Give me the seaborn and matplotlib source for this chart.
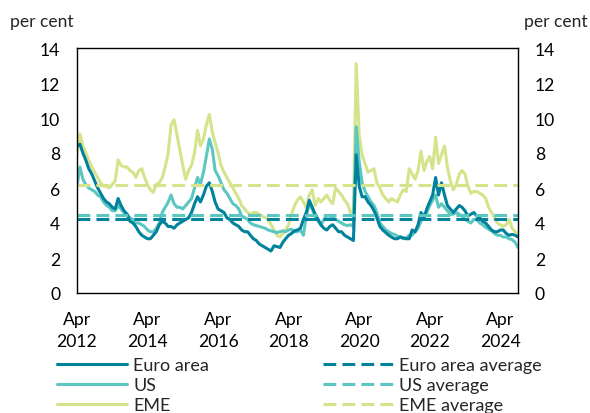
import matplotlib
matplotlib.use("Agg")
import matplotlib.pyplot as plt
import seaborn as sns
import pandas as pd

# ---- data (monthly readings, Apr 2012 - Oct 2024) ----
euro_area = [8.4, 8.5, 8.0, 7.6, 7.1, 6.8, 6.4, 6.0, 5.7, 5.4,
             5.2, 5.1, 4.9, 4.8, 5.4, 5.0, 4.7, 4.5, 4.1, 4.0,
             3.8, 3.5, 3.3, 3.2, 3.1, 3.1, 3.3, 3.5, 3.9, 4.1,
             4.0, 3.8, 3.8, 3.7, 3.9, 4.0, 4.1, 4.2, 4.3,
             4.6, 5.1, 5.5, 5.2, 5.6, 6.1, 6.3, 5.8, 5.2, 4.8,
             4.7, 4.6, 4.3, 4.2, 4.0, 3.9, 3.8, 3.6, 3.5, 3.5,
             3.3, 3.1, 3.0, 2.8, 2.7, 2.6, 2.5, 2.4, 2.7, 2.65,
             2.6, 2.9, 3.1, 3.3, 3.4, 3.55, 3.6,
             3.7, 4.2, 4.6, 5.3, 4.9, 4.5, 4.2, 3.9, 3.7, 3.6,
             3.8, 3.9, 3.7, 3.5, 3.5, 3.3, 3.2, 3.1, 3.0, 7.9,
             6.1, 5.5, 5.5, 5.2, 5.0, 4.7, 4.3, 3.8, 3.6, 3.45,
             3.3, 3.2, 3.1, 3.1, 3.2, 3.15, 3.1, 3.1,
             3.6, 3.5, 3.9, 4.6, 4.3, 4.8, 5.2, 5.6, 6.6, 5.6,
             6.3, 5.6, 5.0, 4.8, 4.6, 4.8, 5.0, 4.9, 4.7, 4.4,
             4.5, 4.6, 4.4, 4.3, 4.1, 4.0, 3.8, 3.6, 3.5, 3.5,
             3.6, 3.6, 3.4, 3.3, 3.35, 3.3, 3.2]

us = [6.1, 7.2, 6.5, 6.2, 6.0, 5.9, 5.8, 5.6, 5.5, 5.2,
      5.0, 4.9, 4.7, 4.7, 5.0, 4.8, 4.6, 4.5, 4.3, 4.2,
      4.0, 4.0, 3.9, 3.8, 3.6, 3.5, 3.5, 3.7, 4.0, 4.6,
      4.9, 5.2, 5.6, 5.1, 4.9, 4.9, 4.8, 5.0, 5.2,
      5.4, 6.0, 6.6, 6.2, 6.9, 7.8, 8.8, 8.2, 7.0, 6.7,
      6.3, 5.9, 5.7, 5.4, 5.1, 5.0, 4.8, 4.4, 4.3, 4.2,
      4.0, 3.9, 3.85, 3.8, 3.75, 3.7, 3.6, 3.55, 3.5, 3.45,
      3.5, 3.55, 3.5, 3.6, 3.65, 3.5, 3.5,
      3.6, 3.3, 4.4, 5.1, 4.8, 4.4, 4.1, 3.9, 4.2, 4.4,
      4.4, 4.3, 4.2, 4.1, 4.0, 3.9, 3.85, 3.9, 3.8, 9.5,
      7.5, 6.3, 5.8, 5.5, 5.2, 5.0, 4.6, 4.0, 3.8, 3.6,
      3.5, 3.4, 3.35, 3.25, 3.2, 3.1, 3.15, 3.3,
      3.3, 3.5, 3.7, 4.1, 4.5, 4.6, 5.0, 5.3, 5.6, 4.9,
      5.1, 4.9, 4.7, 4.5, 4.5, 4.6, 4.5, 4.4, 4.2, 4.1,
      4.0, 4.2, 4.2, 4.0, 3.9, 3.75, 3.65, 3.55, 3.4, 3.3,
      3.3, 3.2, 3.2, 3.1, 3.05, 2.9, 2.6]

eme = [7.9, 9.1, 8.4, 8.0, 7.6, 7.2, 6.9, 6.6, 6.3, 6.1,
       6.1, 6.0, 6.2, 6.4, 7.6, 7.3, 7.2, 7.2, 7.0, 6.9,
       6.6, 7.0, 7.1, 6.6, 6.2, 5.9, 5.75, 6.2, 6.3, 6.6,
       7.2, 8.0, 9.6, 9.9, 9.0, 8.2, 7.3, 6.5, 7.0,
       7.3, 8.0, 9.3, 8.4, 8.8, 9.6, 10.2, 9.2, 8.6, 8.0,
       7.3, 6.9, 6.6, 6.3, 6.0, 5.7, 5.4, 5.0, 4.8, 4.6,
       4.5, 4.6, 4.6, 4.5, 4.4, 4.3, 4.2, 3.9, 3.6, 3.3,
       3.2, 3.4, 3.6, 3.9, 4.5, 5.0, 5.3,
       5.5, 5.2, 4.9, 5.6, 5.9, 5.0, 5.4, 5.2, 5.4, 5.6,
       5.3, 5.1, 6.0, 5.8, 5.6, 5.3, 5.1, 4.6, 4.7, 13.1,
       9.0, 7.9, 7.4, 6.9, 7.0, 7.1, 6.3, 6.0, 5.6, 5.4,
       5.2, 5.4, 5.3, 5.2, 5.6, 5.9, 5.8, 7.1,
       6.8, 6.5, 7.0, 8.1, 7.0, 7.5, 7.8, 7.1, 8.9, 7.4,
       7.9, 8.4, 7.2, 6.4, 5.9, 6.2, 6.8, 7.0, 6.8, 6.1,
       5.7, 5.8, 5.8, 5.7, 5.6, 5.4, 4.9, 4.6, 4.3, 4.0,
       3.9, 3.8, 3.9, 4.2, 3.7, 3.5, 3.4]

euro_avg = 4.25
us_avg = 4.45
eme_avg = 6.2

tick_years = [2012, 2014, 2016, 2018, 2020, 2022, 2024]
tick_labels = [f"Apr\n{y}" for y in tick_years]

C_EURO = "#00829c"
C_US = "#5cc6c0"
C_EME = "#d5e38b"

sns.set_theme(style="white")
plt.rcParams["font.family"] = ["Lato", "DejaVu Sans"]

dates = pd.date_range("2012-04-01", periods=len(euro_area), freq="MS")
df = pd.DataFrame({"date": dates, "Euro area": euro_area, "US": us, "EME": eme})

fig = plt.figure(figsize=(5.9, 4.14), dpi=100)
ax = fig.add_axes([77/590, 1 - 294/414, (518-77)/590, (294-49)/414])

lw = 2.2
sns.lineplot(data=df, x="date", y="EME", ax=ax, color=C_EME, lw=lw, label="EME")
sns.lineplot(data=df, x="date", y="US", ax=ax, color=C_US, lw=lw, label="US")
sns.lineplot(data=df, x="date", y="Euro area", ax=ax, color=C_EURO, lw=lw, label="Euro area")

dash = (4.2, 2.0)
ax.axhline(eme_avg, color=C_EME, lw=lw, dashes=dash, label="EME average")
ax.axhline(us_avg, color=C_US, lw=lw, dashes=dash, label="US average")
ax.axhline(euro_avg, color=C_EURO, lw=lw, dashes=dash, label="Euro area average")

FS = 12.6
ax.set_ylim(0, 14)
ax.set_yticks(range(0, 15, 2))
ax.set_xlim(pd.Timestamp("2012-04-01"), pd.Timestamp("2024-10-01"))
ax.set_xticks([pd.Timestamp(f"{y}-04-01") for y in tick_years])
ax.set_xticklabels(tick_labels)
ax.set_xlabel("")
ax.set_ylabel("")
ax.tick_params(axis="both", length=0, labelsize=FS, colors="black")
ax.tick_params(axis="y", pad=12, labelright=True)
ax.tick_params(axis="x", pad=13)
for lab in ax.get_xticklabels():
    lab.set_linespacing(1.45)
for s in ax.spines.values():
    s.set_visible(True)
    s.set_color("black")
    s.set_linewidth(1.0)

fig.text(10/590, 1 - 22/414, "per cent", fontsize=FS, va="center", ha="left")
fig.text(588/590, 1 - 22/414, "per cent", fontsize=FS, va="center", ha="right")

handles, labels = ax.get_legend_handles_labels()
hmap = dict(zip(labels, handles))
order = ["Euro area", "US", "EME", "Euro area average", "US average", "EME average"]
ax.get_legend().remove()
fig.legend([hmap[k] for k in order], order, ncol=2, loc="upper left",
           bbox_to_anchor=(57/590, 1 - 358/414), frameon=False, fontsize=13,
           handlelength=3.9, handletextpad=0.33, columnspacing=6.3,
           labelspacing=0.22, borderpad=0, borderaxespad=0)

fig.savefig("out.png", dpi=100)
